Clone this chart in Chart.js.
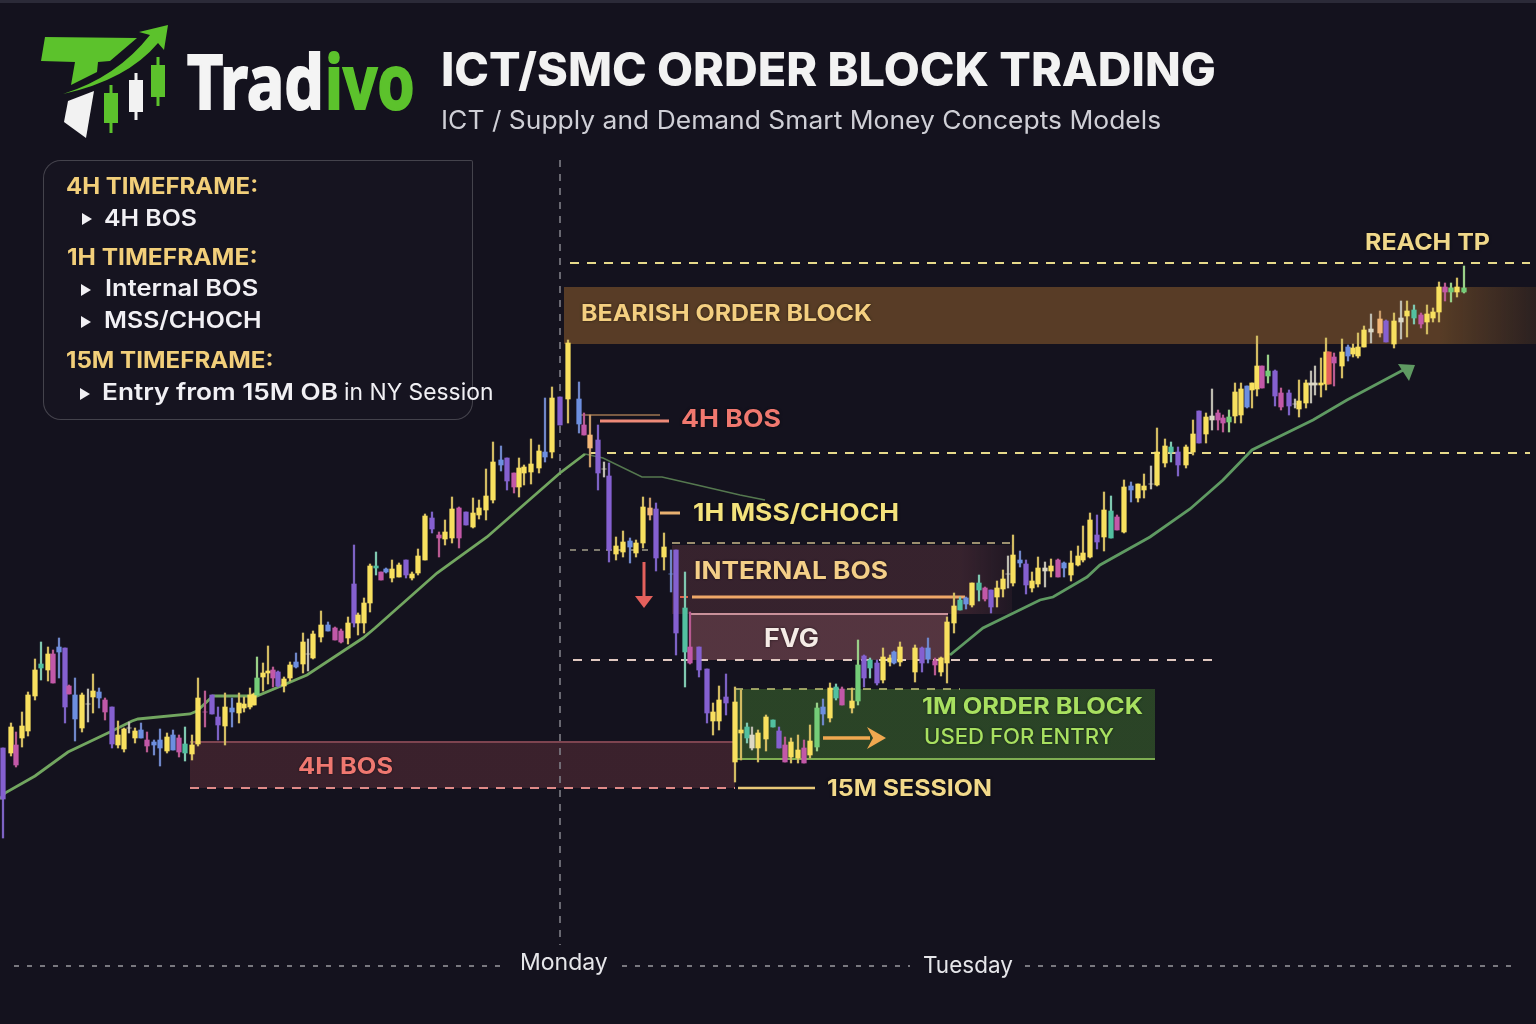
<!DOCTYPE html>
<html>
<head>
<meta charset="utf-8">
<title>ICT/SMC Order Block Trading</title>
<script src="https://cdn.jsdelivr.net/npm/chart.js@4"></script>
<style>
    html, body { margin: 0; padding: 0; background: #14121e; }
    #page { position: relative; width: 1536px; height: 1024px; overflow: hidden; background: #14121e; font-family: Inter, sans-serif; }
    #page::before { content: ""; position: absolute; left: 0; right: 0; top: 0; height: 3px; background: #2b2a38; }
    canvas { position: absolute; left: 0; top: 0; }
    .t { position: absolute; white-space: nowrap; display: inline-block; line-height: 1; transform-origin: left center; }
    #panel { position: absolute; left: 43px; top: 160px; width: 430px; height: 260px; box-sizing: border-box; border: 1px solid rgba(255, 255, 255, 0.2); border-radius: 18px 2px 18px 18px; background: rgba(255, 255, 255, 0.012); }
    .head { color: #f2cf7a; font-size: 23px; font-weight: 700; }
    .item { color: #f1f0f4; font-size: 23px; font-weight: 600; }
    .tri { position: absolute; width: 0; height: 0; border-left: 10px solid #f1f0f4; border-top: 6px solid transparent; border-bottom: 6px solid transparent; }
    .day { color: #e6e6ea; font-size: 23px; font-weight: 400; }
    .brand { font-family: "Noto Sans"; font-size: 76px; font-weight: 700; -webkit-text-stroke: 2px currentColor; }
</style>
</head>
<body>
<div id="page">
    <canvas id="base" width="1536" height="1024"></canvas>

    <svg style="position:absolute;left:0;top:0" width="420" height="150" viewBox="0 0 420 150">
        <path fill="#5cc22c" d="M45 37 L137 38 L110 61 L98 62 L97 72 L71 85 L75 62 L41 61 Z" />
        <path fill="#5cc22c" d="M63 94 Q117 77 150 35 L139 32 L168 25 L164 50 L158 43 Q127 80 63 94 Z" />
        <path fill="#f2f2f2" d="M94 91 L68 101 L64 122 L86 138 Z" />
        <path fill="#5cc22c" d="M109.500 85 h3 v8 h5.500 v30 h-5.500 v10 h-3 v-10 h-5.500 v-30 h5.500 Z" />
        <path fill="#f2f2f2" d="M134.500 73 h3 v7 h5.500 v32 h-5.500 v8 h-3 v-8 h-5.500 v-32 h5.500 Z" />
        <path fill="#5cc22c" d="M156.500 57 h3 v8 h5.500 v32 h-5.500 v9 h-3 v-9 h-5.500 v-32 h5.500 Z" />
    </svg>
    <span class="t brand" data-w="137" style="left:187px;top:42px;color:#f4f4f4">Trad</span>
    <span class="t brand" data-w="90" style="left:325px;top:42px;color:#5cc22c">ivo</span>

    <span class="t" data-w="775" style="left:441px;top:46px;font-size:46px;font-weight:800;color:#f2f2f2">ICT/SMC ORDER BLOCK TRADING</span>
    <span class="t" data-w="720" style="left:441px;top:108px;font-size:25px;font-weight:400;color:#cfcfd6">ICT / Supply and Demand Smart Money Concepts Models</span>

    <div id="panel"></div>
    <span class="t head" data-w="192" style="left:66px;top:175px">4H TIMEFRAME:</span>
    <i class="tri" style="left:82px;top:213px"></i>
    <span class="t item" data-w="93" style="left:104px;top:207px">4H BOS</span>
    <span class="t head" data-w="191" style="left:67px;top:246px">1H TIMEFRAME:</span>
    <i class="tri" style="left:81px;top:284px"></i>
    <span class="t item" data-w="153" style="left:105px;top:277px">Internal BOS</span>
    <i class="tri" style="left:81px;top:316px"></i>
    <span class="t item" data-w="158" style="left:104px;top:309px">MSS/CHOCH</span>
    <span class="t head" data-w="208" style="left:66px;top:349px">15M TIMEFRAME:</span>
    <i class="tri" style="left:80px;top:388px"></i>
    <span class="t item" data-w="236" style="left:102px;top:381px">Entry from 15M OB</span>
    <span class="t item" data-w="149" style="left:344px;top:381px;font-weight:400">in NY Session</span>

    <span class="t day" data-w="88" style="left:520px;top:951px">Monday</span>
    <span class="t day" data-w="90" style="left:923px;top:954px">Tuesday</span>
</div>

<script>
    // Candles
    const times = [3,11,16,22,28,35,41,48,53,59,65,69,75,82,88,93,99,105,112,118,124,129,135,141,147,154,160,167,173,179,185,192,198,205,212,218,225,232,239,244,250,254,257,263,268,273,278,284,290,296,303,308,313,321,328,335,341,348,354,358,364,370,376,381,386,392,399,406,412,418,425,432,439,445,452,459,466,473,479,486,493,501,507,514,519,524,531,539,545,552,560,568,579,584,590,598,604,609,616,623,630,636,643,650,656,664,671,676,685,690,699,707,713,719,726,735,741,747,752,758,766,773,779,785,791,798,804,810,817,823,830,836,842,852,858,864,870,877,883,890,894,900,915,922,928,935,941,947,954,960,966,972,979,985,991,997,1003,1008,1013,1020,1026,1032,1038,1045,1051,1058,1064,1071,1078,1083,1090,1097,1104,1111,1117,1124,1131,1138,1144,1151,1157,1165,1171,1178,1186,1193,1199,1206,1212,1218,1223,1229,1235,1241,1247,1252,1257,1262,1268,1275,1281,1289,1295,1299,1306,1311,1315,1321,1326,1329,1334,1342,1348,1353,1358,1364,1371,1380,1386,1394,1401,1407,1414,1421,1427,1433,1439,1445,1451,1457,1464];
    const highs = [276,301,292,312,332,365,382,377,374,386,376,339,346,331,335,350,336,326,317,303,296,302,296,301,292,284,295,291,294,289,297,289,346,333,329,317,331,326,331,327,336,331,367,361,378,357,353,347,362,371,391,385,393,413,402,397,395,407,479,411,426,460,472,452,456,464,461,464,452,475,510,512,492,504,527,517,512,526,524,555,582,578,566,551,566,559,585,579,626,637,627,684,642,611,609,599,562,561,487,493,486,484,527,526,521,491,474,474,452,412,377,355,321,338,350,337,334,301,297,294,309,304,297,287,286,289,284,299,321,325,341,340,337,336,384,369,366,364,376,369,373,382,379,377,386,366,367,407,431,427,427,441,449,437,434,443,454,468,489,473,464,452,467,462,465,465,462,473,478,498,511,509,532,528,509,544,542,540,550,558,596,585,582,577,579,604,613,611,635,614,609,614,641,641,638,641,688,658,669,654,636,634,625,644,644,653,658,666,686,672,671,685,679,680,691,698,710,713,704,711,723,723,719,711,719,716,742,741,741,746,758];
    const lows = [186,268,257,277,288,324,344,343,341,346,301,330,283,292,302,311,316,304,276,276,272,291,281,286,272,269,258,271,274,267,263,264,278,297,310,284,279,297,301,312,315,319,329,333,340,337,337,332,343,356,351,353,365,382,393,384,381,380,397,389,391,412,449,444,451,442,447,446,444,449,464,491,467,479,481,476,499,496,505,504,521,553,534,531,527,539,540,551,562,566,599,601,591,589,557,534,547,462,464,467,461,467,476,504,453,454,432,369,337,360,347,301,289,294,309,242,264,281,274,262,273,297,276,262,261,261,261,266,273,299,302,324,319,311,319,337,346,339,341,358,360,358,342,352,361,349,348,341,391,414,415,417,423,423,411,417,427,436,438,457,430,432,437,437,447,447,447,443,458,462,466,475,473,486,494,491,522,522,526,535,538,557,562,548,556,569,581,581,594,594,592,592,601,601,616,616,628,636,641,618,614,609,616,607,616,621,629,627,634,640,638,646,663,667,666,677,681,687,682,676,685,687,700,696,690,702,702,723,722,727,731];
    const bodyTops = [276,297,279,298,329,354,360,370,370,377,376,338,329,329,320,333,332,324,317,289,295,296,293,294,284,282,284,287,289,286,280,279,326,312,329,307,317,316,321,320,329,330,346,351,353,354,352,345,359,362,382,370,390,399,399,396,393,401,440,409,421,458,458,452,455,455,459,464,450,468,508,506,489,492,515,516,512,511,516,528,562,564,566,551,556,557,560,573,572,626,627,681,625,599,589,584,555,548,478,482,483,481,517,516,515,477,450,474,416,377,377,355,312,324,327,322,294,297,289,291,307,304,293,279,282,274,276,283,316,317,336,337,335,323,359,368,364,361,367,366,372,377,376,376,376,363,366,402,418,424,426,441,441,436,434,436,445,450,469,464,460,443,456,456,458,464,461,461,468,471,504,489,514,513,507,537,538,540,538,540,572,578,577,572,577,590,613,607,608,611,606,607,632,635,638,641,658,658,653,653,631,631,620,623,641,641,641,641,672,672,667,672,677,676,677,694,695,705,703,703,706,713,714,709,710,712,737,737,736,737,736];
    const bodyBottoms = [225,271,259,286,293,328,356,354,341,372,317,330,305,296,320,327,326,312,280,279,275,296,286,286,278,279,276,273,274,272,271,270,280,312,310,299,298,312,311,316,317,319,329,347,351,346,338,338,346,357,360,370,366,387,393,384,382,386,401,401,401,421,456,444,452,446,447,449,446,451,464,495,486,485,486,486,499,497,509,514,524,559,543,537,537,551,552,556,567,572,599,625,600,589,576,551,555,474,470,472,477,471,481,509,466,467,450,391,372,361,354,311,303,303,321,262,291,286,276,276,285,297,276,262,267,266,261,269,277,310,306,326,319,316,323,346,356,341,344,362,361,362,352,361,365,359,352,361,401,414,420,419,434,425,417,427,435,450,441,461,439,436,440,453,453,447,456,449,459,464,467,482,487,486,494,492,534,526,534,540,539,561,572,559,559,572,581,590,604,604,601,602,608,609,617,634,635,636,648,628,617,618,620,615,621,639,639,639,640,640,661,658,668,670,668,677,692,691,682,680,702,708,706,700,702,706,712,732,732,732,732];
    const kinds = ("pymyyytymb" + "pmbywybmpy" + "ywybmbbybm" + "tyymppybyy" +
        "yygyympyyb" + "ywyybmmypy" + "yytmbyypyy" + "ypmyympyyy" +
        "ybpmyyyyby" + "pybmopwpyy" + "byyopybptm" + "ppyypyytwy" +
        "ytpmyymygb" + "ytmygptpyy" + "byypbmyyyt" + "bytmpyywyb" +
        "pyywymbyyy" + "ypytmybyyw" + "yytpyypywm" + "mgyybyymgp" +
        "mpwyywwyyr" + "mybyyywopy" + "wytmyyymgyg").split("");

    // Moving average legs
    const riseTimes = [0,5,35,68,110,132,138,190,197,213,257,307,363,375,437,487,560,585];
    const riseValues = [225,231,248,272,292,303,305,310,313,328,328,349,386,396,451,487,551,570];
    const fadeTimes = [585,603,642,662,697,740,765];
    const fadeValues = [570,566,547,547,539,529,524];
    const recoveryTimes = [950,983,1040,1053,1087,1100,1150,1190,1223,1252,1313,1347,1407];
    const recoveryValues = [369,396,424,427,447,459,487,515,544,574,604,624,656];

    // Key prices
    const takeProfit = 761;
    const obHigh = 737;
    const obLow = 680;
    const midLevel = 571;
    const internalHigh = 481;
    const internalLevel = 427;
    const fvgHigh = 410;
    const fvgLow = 364;
    const entryHigh = 335;
    const entryLow = 265;
    const bosHigh = 282;
    const bosLow = 236;

    const palette = {
        y: ["#f8e05f", "#d2bb62"],
        p: ["#8560d0", "#7d62c4"],
        b: ["#6d8fe0", "#6f86c8"],
        m: ["#c258a8", "#b85a90"],
        t: ["#52c0a0", "#7fc8b0"],
        g: ["#74cc78", "#9ad088"],
        w: ["#dcd8c4", "#bdbbb0"],
        o: ["#f4b878", "#c89a68"],
        r: ["#e4605c", "#d85a58"],
    };

    const segment = (from, to, price, color, width, dash) => ({
        type: "line",
        data: [{ x: from, y: price }, { x: to, y: price }],
        borderColor: color,
        borderWidth: width,
        borderDash: dash || [],
        pointRadius: 0,
        order: 5,
    });

    const maLine = (xs, ys, color, width) => ({
        type: "line",
        data: xs.map((x, i) => ({ x, y: ys[i] })),
        borderColor: color,
        borderWidth: width,
        pointRadius: 0,
        tension: 0,
        order: 4,
    });

    // Boxes behind the candles
    const zones = [
        { x1: 564, x2: 1536, top: obHigh, bottom: obLow, color: "190,125,50", alpha: 0.4, fade: 0.9 },
        { x1: 672, x2: 1012, top: internalHigh - 2, bottom: fvgHigh, color: "150,80,90", alpha: 0.27, fade: 0.85 },
        { x1: 690, x2: 948, top: fvgHigh, bottom: fvgLow, color: "190,110,120", alpha: 0.38 },
        { x1: 190, x2: 735, top: bosHigh, bottom: bosLow, color: "150,70,80", alpha: 0.3 },
        { x1: 735, x2: 1155, top: entryHigh, bottom: entryLow, color: "70,130,50", alpha: 0.45 },
    ];

    const labels = [
        { text: "BEARISH ORDER BLOCK", x: 581, y: 710, w: 291, size: 23, color: "#f4cf80" },
        { text: "REACH TP", x: 1365, y: 781, w: 125, size: 23, color: "#f0d88a" },
        { text: "4H BOS", x: 681, y: 604, w: 100, size: 24, color: "#f0786f" },
        { text: "1H MSS/CHOCH", x: 693, y: 510, w: 206, size: 24, color: "#f3e27c" },
        { text: "INTERNAL BOS", x: 694, y: 452, w: 194, size: 24, color: "#f4cf88" },
        { text: "FVG", x: 764, y: 385, w: 55, size: 25, color: "#f5ece6" },
        { text: "1M ORDER BLOCK", x: 922, y: 317, w: 221, size: 23, color: "#a8e060" },
        { text: "USED FOR ENTRY", x: 924, y: 286, w: 190, size: 21, color: "#a8e060", weight: 500 },
        { text: "4H BOS", x: 298, y: 257, w: 95, size: 23, color: "#ef7870" },
        { text: "15M SESSION", x: 827, y: 235, w: 165, size: 23, color: "#f2d98a" },
    ];

    const arrows = [
        { tip: [644, 416], points: [[635, 428], [653, 428]], color: "#e4605c" },
        { tip: [886, 286], points: [[867, 297], [873, 286], [867, 275]], color: "#f0a850" },
        { tip: [1415, 659], points: [[1398, 660], [1409, 643]], color: "#5f9a62" },
    ];

    // Boxes under the datasets, text and arrow heads over them
    const marksPlugin = {
        id: "marks",
        beforeDatasetsDraw(chart) {
            const { ctx, scales: { x, y } } = chart;
            zones.forEach((z) => {
                const left = x.getPixelForValue(z.x1);
                const right = x.getPixelForValue(z.x2);
                const grad = ctx.createLinearGradient(left, 0, right, 0);
                grad.addColorStop(0, `rgba(${z.color},${z.alpha})`);
                grad.addColorStop(z.fade || 1, `rgba(${z.color},${z.alpha})`);
                grad.addColorStop(1, `rgba(${z.color},${z.fade ? z.alpha * 0.35 : z.alpha})`);
                ctx.fillStyle = grad;
                ctx.fillRect(left, y.getPixelForValue(z.top), right - left, y.getPixelForValue(z.bottom) - y.getPixelForValue(z.top));
            });
        },
        afterDatasetsDraw(chart) {
            const { ctx, scales: { x, y } } = chart;
            ctx.save();
            arrows.forEach((a) => {
                ctx.fillStyle = a.color;
                ctx.beginPath();
                ctx.moveTo(x.getPixelForValue(a.tip[0]), y.getPixelForValue(a.tip[1]));
                a.points.forEach((p) => ctx.lineTo(x.getPixelForValue(p[0]), y.getPixelForValue(p[1])));
                ctx.closePath();
                ctx.fill();
            });
            ctx.textBaseline = "middle";
            labels.forEach((l) => {
                ctx.font = `${l.weight || 700} ${l.size}px Inter, sans-serif`;
                const stretch = l.w / ctx.measureText(l.text).width;
                ctx.save();
                ctx.translate(x.getPixelForValue(l.x), y.getPixelForValue(l.y));
                ctx.scale(stretch, 1);
                ctx.shadowColor = "rgba(0,0,0,0.55)";
                ctx.shadowBlur = 3;
                ctx.fillStyle = l.color;
                ctx.fillText(l.text, 0, 0);
                ctx.restore();
            });
            ctx.restore();
        },
    };

    const canvas = document.getElementById("base").getContext("2d");

    const chart = new Chart(canvas, {
        data: {
            datasets: [
                // Bodies
                {
                    type: "bar",
                    data: times.map((t, i) => ({ x: t, y: [bodyBottoms[i], bodyTops[i]] })),
                    backgroundColor: kinds.map((k) => palette[k][0]),
                    barThickness: 4.6,
                    grouped: false,
                    order: 1,
                },
                // Wicks
                {
                    type: "bar",
                    data: times.map((t, i) => ({ x: t, y: [lows[i], highs[i]] })),
                    backgroundColor: kinds.map((k) => palette[k][1]),
                    barThickness: 1.6,
                    grouped: false,
                    order: 2,
                },
                maLine(riseTimes, riseValues, "#72a660", 2.8),
                maLine(fadeTimes, fadeValues, "#55784f", 1.6),
                maLine(recoveryTimes, recoveryValues, "#5f9a62", 2.8),

                segment(570, 1530, takeProfit, "#e6d98a", 2, [9, 8]),
                segment(590, 1530, midLevel, "#e6d98a", 2, [9, 8]),
                segment(570, 650, 474, "#b9b49a", 1.3, [6, 6]),
                segment(672, 1012, internalHigh, "#c9b98a", 1.6, [8, 7]),
                segment(573, 1220, fvgLow, "#e0c8c0", 2, [9, 9]),
                segment(190, 735, bosLow, "#e08a88", 2, [9, 8]),
                segment(735, 960, entryHigh, "#c5c878", 1.5, [8, 8]),
                segment(692, 965, internalLevel, "#f0a868", 3),
                segment(680, 688, internalLevel, "#e0604a", 2),
                segment(690, 948, fvgHigh, "#c9919a", 2),
                segment(735, 1155, entryLow, "#7fae52", 2),
                segment(190, 735, bosHigh, "#7d4450", 2),
                segment(600, 669, 603, "#ee8a78", 3),
                segment(580, 660, 609, "#9c7450", 1.5),
                segment(660, 680, 511, "#e8b070", 3),
                segment(738, 815, bosLow, "#e8c878", 2.5),
                segment(823, 870, 286, "#f0a850", 3.5),

                // Session separators
                {
                    type: "line",
                    data: [{ x: 560, y: 864 }, { x: 560, y: 79 }],
                    borderColor: "#85858d",
                    borderWidth: 1.5,
                    borderDash: [7, 7],
                    pointRadius: 0,
                    order: 6,
                },
                segment(14, 505, 58, "#9a9aa0", 1.5, [5, 8]),
                segment(622, 910, 58, "#9a9aa0", 1.5, [5, 8]),
                segment(1025, 1515, 58, "#9a9aa0", 1.5, [5, 8]),

                // Drop marker
                {
                    type: "line",
                    data: [{ x: 644, y: 462 }, { x: 644, y: 426 }],
                    borderColor: "#e4605c",
                    borderWidth: 3,
                    pointRadius: 0,
                    order: 3,
                },
            ],
        },
        options: {
            responsive: false,
            animation: false,
            layout: { padding: 0 },
            scales: {
                x: { type: "linear", min: 0, max: 1536, offset: false, display: false },
                y: { type: "linear", min: 0, max: 1024, display: false },
            },
            plugins: {
                legend: { display: false },
                tooltip: { enabled: false },
            },
        },
        plugins: [marksPlugin],
    });

    // Stretch the headings to the widths in the picture
    document.querySelectorAll(".t").forEach((el) => {
        const stretch = Number(el.dataset.w) / el.offsetWidth;
        el.style.transform = `scaleX(${stretch.toFixed(3)})`;
    });
</script>
</body>
</html>
